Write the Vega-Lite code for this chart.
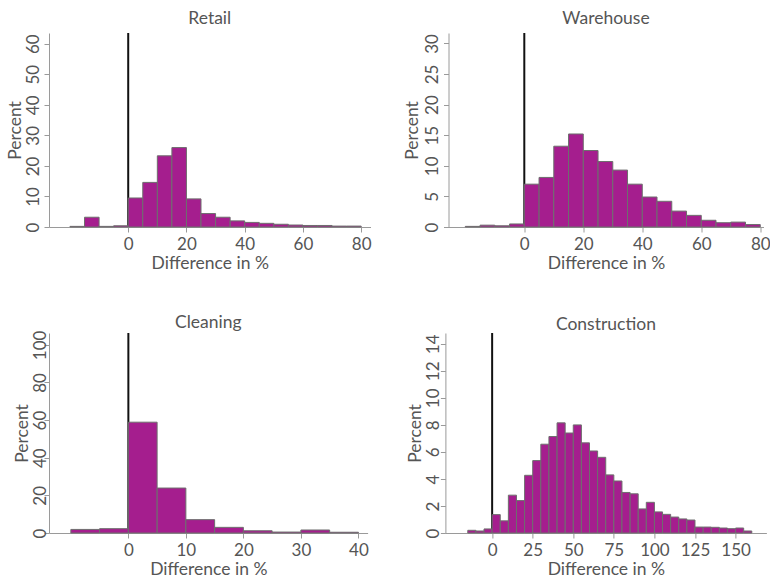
{
  "$schema": "https://vega.github.io/schema/vega-lite/v6.json",
  "padding": {"left": 6, "top": 9, "right": 0, "bottom": 0},
  "background": "white",
  "config": {
    "view": {"stroke": null},
    "font": "Lato",
    "title": {"fontSize": 17.5, "fontWeight": "normal", "color": "#555555", "font": "Lato", "offset": 5},
    "axis": {
      "grid": false,
      "domainColor": "#9a9a9a",
      "tickColor": "#9a9a9a",
      "tickSize": 5,
      "labelColor": "#555555",
      "labelFontSize": 17,
      "labelFont": "Lato",
      "titleFont": "Lato",
      "titleFontSize": 17.5,
      "titleFontWeight": "normal",
      "titleColor": "#555555"
    },
    "axisY": {"labelAngle": 270, "labelAlign": "center", "labelBaseline": "bottom", "labelPadding": 0.5, "titlePadding": 0},
    "axisX": {"labelPadding": 4, "titlePadding": 2}
  },
  "datasets": {
    "retail": [
      {"x0": -20, "x1": -15, "pct": 0.2}, {"x0": -15, "x1": -10, "pct": 3.2}, {"x0": -10, "x1": -5, "pct": 0.2}, {"x0": -5, "x1": 0, "pct": 0.4},
      {"x0": 0, "x1": 5, "pct": 9.5}, {"x0": 5, "x1": 10, "pct": 14.6}, {"x0": 10, "x1": 15, "pct": 23.3}, {"x0": 15, "x1": 20, "pct": 26.0},
      {"x0": 20, "x1": 25, "pct": 9.2}, {"x0": 25, "x1": 30, "pct": 4.4}, {"x0": 30, "x1": 35, "pct": 3.2}, {"x0": 35, "x1": 40, "pct": 2.0},
      {"x0": 40, "x1": 45, "pct": 1.5}, {"x0": 45, "x1": 50, "pct": 1.2}, {"x0": 50, "x1": 55, "pct": 0.9}, {"x0": 55, "x1": 60, "pct": 0.65},
      {"x0": 60, "x1": 65, "pct": 0.5}, {"x0": 65, "x1": 70, "pct": 0.5}, {"x0": 70, "x1": 75, "pct": 0.3}, {"x0": 75, "x1": 80, "pct": 0.3}
    ],
    "warehouse": [
      {"x0": -20, "x1": -15, "pct": 0.1}, {"x0": -15, "x1": -10, "pct": 0.3}, {"x0": -10, "x1": -5, "pct": 0.2}, {"x0": -5, "x1": 0, "pct": 0.5},
      {"x0": 0, "x1": 5, "pct": 7.0}, {"x0": 5, "x1": 10, "pct": 8.1}, {"x0": 10, "x1": 15, "pct": 13.2}, {"x0": 15, "x1": 20, "pct": 15.2},
      {"x0": 20, "x1": 25, "pct": 12.5}, {"x0": 25, "x1": 30, "pct": 10.7}, {"x0": 30, "x1": 35, "pct": 9.3}, {"x0": 35, "x1": 40, "pct": 7.0},
      {"x0": 40, "x1": 45, "pct": 4.9}, {"x0": 45, "x1": 50, "pct": 4.2}, {"x0": 50, "x1": 55, "pct": 2.6}, {"x0": 55, "x1": 60, "pct": 1.9},
      {"x0": 60, "x1": 65, "pct": 1.1}, {"x0": 65, "x1": 70, "pct": 0.7}, {"x0": 70, "x1": 75, "pct": 0.8}, {"x0": 75, "x1": 80, "pct": 0.4}
    ],
    "cleaning": [
      {"x0": -10, "x1": -5, "pct": 1.9}, {"x0": -5, "x1": 0, "pct": 2.3}, {"x0": 0, "x1": 5, "pct": 58.9}, {"x0": 5, "x1": 10, "pct": 23.9},
      {"x0": 10, "x1": 15, "pct": 7.1}, {"x0": 15, "x1": 20, "pct": 3.0}, {"x0": 20, "x1": 25, "pct": 1.2}, {"x0": 25, "x1": 30, "pct": 0.5},
      {"x0": 30, "x1": 35, "pct": 1.6}, {"x0": 35, "x1": 40, "pct": 0.4}
    ],
    "construction": [
      {"x0": -15, "x1": -10, "pct": 0.2}, {"x0": -10, "x1": -5, "pct": 0.15}, {"x0": -5, "x1": 0, "pct": 0.3}, {"x0": 0, "x1": 5, "pct": 1.36},
      {"x0": 5, "x1": 10, "pct": 0.9}, {"x0": 10, "x1": 15, "pct": 2.8}, {"x0": 15, "x1": 20, "pct": 2.4}, {"x0": 20, "x1": 25, "pct": 4.27},
      {"x0": 25, "x1": 30, "pct": 5.36}, {"x0": 30, "x1": 35, "pct": 6.57}, {"x0": 35, "x1": 40, "pct": 7.14}, {"x0": 40, "x1": 45, "pct": 8.15},
      {"x0": 45, "x1": 50, "pct": 7.4}, {"x0": 50, "x1": 55, "pct": 8.0}, {"x0": 55, "x1": 60, "pct": 6.67}, {"x0": 60, "x1": 65, "pct": 6.07},
      {"x0": 65, "x1": 70, "pct": 5.6}, {"x0": 70, "x1": 75, "pct": 4.3}, {"x0": 75, "x1": 80, "pct": 3.85}, {"x0": 80, "x1": 85, "pct": 3.0},
      {"x0": 85, "x1": 90, "pct": 2.9}, {"x0": 90, "x1": 95, "pct": 1.78}, {"x0": 95, "x1": 100, "pct": 2.27}, {"x0": 100, "x1": 105, "pct": 1.56},
      {"x0": 105, "x1": 110, "pct": 1.38}, {"x0": 110, "x1": 115, "pct": 1.18}, {"x0": 115, "x1": 120, "pct": 1.04}, {"x0": 120, "x1": 125, "pct": 0.96},
      {"x0": 125, "x1": 130, "pct": 0.44}, {"x0": 130, "x1": 135, "pct": 0.44}, {"x0": 135, "x1": 140, "pct": 0.42}, {"x0": 140, "x1": 145, "pct": 0.37},
      {"x0": 145, "x1": 150, "pct": 0.32}, {"x0": 150, "x1": 155, "pct": 0.37}, {"x0": 155, "x1": 160, "pct": 0.15}
    ]
  },
  "vconcat": [
    {
      "hconcat": [
        {
          "title": {"text": "Retail", "offset": 5},
          "width": 321.5, "height": 194,
          "layer": [
            {"data": {"values": [{}]}, "mark": {"type": "rule", "color": "#111111", "strokeWidth": 2}, "encoding": {"x": {"datum": 0, "type": "quantitative"}}},
            {"data": {"name": "retail"}, "mark": {"type": "rect", "fill": "#A51E8E", "stroke": "#6e6e6e", "strokeWidth": 1},
             "encoding": {
               "x": {"field": "x0", "type": "quantitative", "scale": {"domain": [-27.2, 83.2], "nice": false, "zero": false}, "axis": {"values": [0, 20, 40, 60, 80], "title": "Difference in %"}},
               "x2": {"field": "x1"},
               "y": {"field": "pct", "type": "quantitative", "scale": {"domain": [0, 63.5], "nice": false}, "axis": {"values": [0, 10, 20, 30, 40, 50, 60], "title": "Percent", "labelPadding": 1.5, "titlePadding": 0}},
               "y2": {"datum": 0}
             }}
          ]
        },
        {
          "title": {"text": "Warehouse", "offset": 5},
          "width": 315, "height": 194,
          "layer": [
            {"data": {"values": [{}]}, "mark": {"type": "rule", "color": "#111111", "strokeWidth": 2}, "encoding": {"x": {"datum": 0, "type": "quantitative"}}},
            {"data": {"name": "warehouse"}, "mark": {"type": "rect", "fill": "#A51E8E", "stroke": "#6e6e6e", "strokeWidth": 1},
             "encoding": {
               "x": {"field": "x0", "type": "quantitative", "scale": {"domain": [-25.7, 81.1], "nice": false, "zero": false}, "axis": {"values": [0, 20, 40, 60, 80], "title": "Difference in %"}},
               "x2": {"field": "x1"},
               "y": {"field": "pct", "type": "quantitative", "scale": {"domain": [0, 31.7], "nice": false}, "axis": {"values": [0, 5, 10, 15, 20, 25, 30], "title": "Percent", "labelPadding": 2.5, "titlePadding": 2}},
               "y2": {"datum": 0}
             }}
          ]
        }
      ],
      "spacing": 30.5
    },
    {
      "hconcat": [
        {
          "title": {"text": "Cleaning", "offset": -1},
          "width": 318.6, "height": 200,
          "layer": [
            {"data": {"values": [{}]}, "mark": {"type": "rule", "color": "#111111", "strokeWidth": 2}, "encoding": {"x": {"datum": 0, "type": "quantitative"}}},
            {"data": {"name": "cleaning"}, "mark": {"type": "rect", "fill": "#A51E8E", "stroke": "#6e6e6e", "strokeWidth": 1},
             "encoding": {
               "x": {"field": "x0", "type": "quantitative", "scale": {"domain": [-13.8, 41.6], "nice": false, "zero": false}, "axis": {"values": [0, 10, 20, 30, 40], "title": "Difference in %"}},
               "x2": {"field": "x1"},
               "y": {"field": "pct", "type": "quantitative", "scale": {"domain": [0, 106.3], "nice": false}, "axis": {"values": [0, 20, 40, 60, 80, 100], "title": "Percent", "labelPadding": -5}},
               "y2": {"datum": 0}
             }}
          ]
        },
        {
          "title": {"text": "Construction", "offset": -1},
          "width": 321, "height": 200,
          "layer": [
            {"data": {"values": [{}]}, "mark": {"type": "rule", "color": "#111111", "strokeWidth": 2}, "encoding": {"x": {"datum": 0, "type": "quantitative"}}},
            {"data": {"name": "construction"}, "mark": {"type": "rect", "fill": "#A51E8E", "stroke": "#6e6e6e", "strokeWidth": 1},
             "encoding": {
               "x": {"field": "x0", "type": "quantitative", "scale": {"domain": [-28.8, 169], "nice": false, "zero": false}, "axis": {"values": [0, 25, 50, 75, 100, 125, 150], "title": "Difference in %"}},
               "x2": {"field": "x1"},
               "y": {"field": "pct", "type": "quantitative", "scale": {"domain": [0, 14.8], "nice": false}, "axis": {"values": [0, 2, 4, 6, 8, 10, 12, 14], "title": "Percent", "labelPadding": -2}},
               "y2": {"datum": 0}
             }}
          ]
        }
      ],
      "spacing": 37.4
    }
  ],
  "spacing": 41
}
